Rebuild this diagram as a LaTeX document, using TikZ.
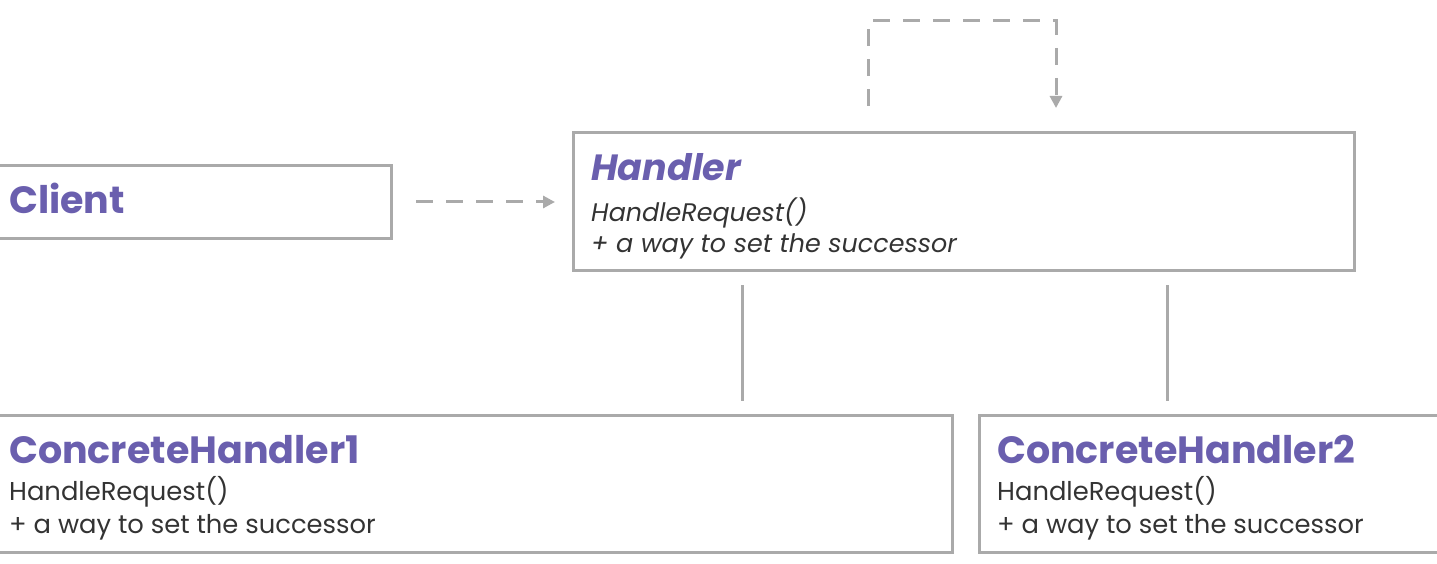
\documentclass[tikz,border=0pt]{standalone}
\usepackage{fontspec}
\setmainfont{Poppins}
\usetikzlibrary{arrows.meta}
\definecolor{ttl}{HTML}{6A5FAE}
\definecolor{ln}{HTML}{AAAAAA}
\definecolor{txt}{HTML}{333333}
\tikzset{
  box/.style={draw=ln, line width=3pt, rectangle, inner sep=0pt},
  ttltext/.style={anchor=base west, inner sep=0pt, text=ttl, font=\fontsize{38}{42}\selectfont\bfseries},
  bodytext/.style={anchor=base west, inner sep=0pt, text=txt, font=\fontsize{25.8}{30}\selectfont},
  conn/.style={draw=ln, line width=3pt},
  dconn/.style={draw=ln, line width=3pt, dash pattern=on 17pt off 13pt},
  tip/.style={-{Triangle[length=12pt,width=12pt]}}
}
\begin{document}
\begin{tikzpicture}[x=1pt,y=-1pt]
\useasboundingbox (0,0) rectangle (1437,564);
\clip (0,0) rectangle (1437,564);
% boxes
\node[box, minimum width=400pt, minimum height=73pt, anchor=north west] (client) at (-10,164) {};
\node[box, minimum width=781pt, minimum height=138pt, anchor=north west] (handler) at (572,131) {};
\node[box, minimum width=961pt, minimum height=137pt, anchor=north west] (ch1) at (-10,414) {};
\node[box, minimum width=470pt, minimum height=137pt, anchor=north west] (ch2) at (978,414) {};
% texts
\node[ttltext] (tclient) at (9,214) {Client};
\node[ttltext, font=\fontsize{36.5}{42}\selectfont\bfseries\itshape] (thandler) at (591,181) {Handler};
\node[bodytext, font=\fontsize{25.4}{30}\selectfont\itshape] (h1) at (591,222) {HandleRequest()};
\node[bodytext, font=\fontsize{25.4}{30}\selectfont\itshape] (h2) at (591,252) {+ a way to set the successor};
\node[ttltext] (tch1) at (9,463) {ConcreteHandler1};
\node[bodytext] (c11) at (9,500) {HandleRequest()};
\node[bodytext] (c12) at (9,533) {+ a way to set the successor};
\node[ttltext] (tch2) at (997,463) {ConcreteHandler2};
\node[bodytext] (c21) at (997,500) {HandleRequest()};
\node[bodytext] (c22) at (997,533) {+ a way to set the successor};
% connectors
\coordinate (l1) at (742,0);
\coordinate (l2) at (1167,0);
\draw[conn] ([yshift=-13pt]handler.south -| l1) -- ([yshift=13pt]ch1.north -| l1);
\draw[conn] ([yshift=-13pt]handler.south -| l2) -- ([yshift=13pt]ch2.north -| l2);
\draw[dconn, tip] ([xshift=23pt]client.east) -- ([xshift=-17pt]handler.west |- client.east);
\coordinate (la) at (868,21);
\coordinate (lb) at (1056,21);
\draw[dconn, tip] ([yshift=25pt]handler.north -| la) -- (la) -- (lb) -- ([yshift=23pt]handler.north -| lb);
\end{tikzpicture}
\end{document}
